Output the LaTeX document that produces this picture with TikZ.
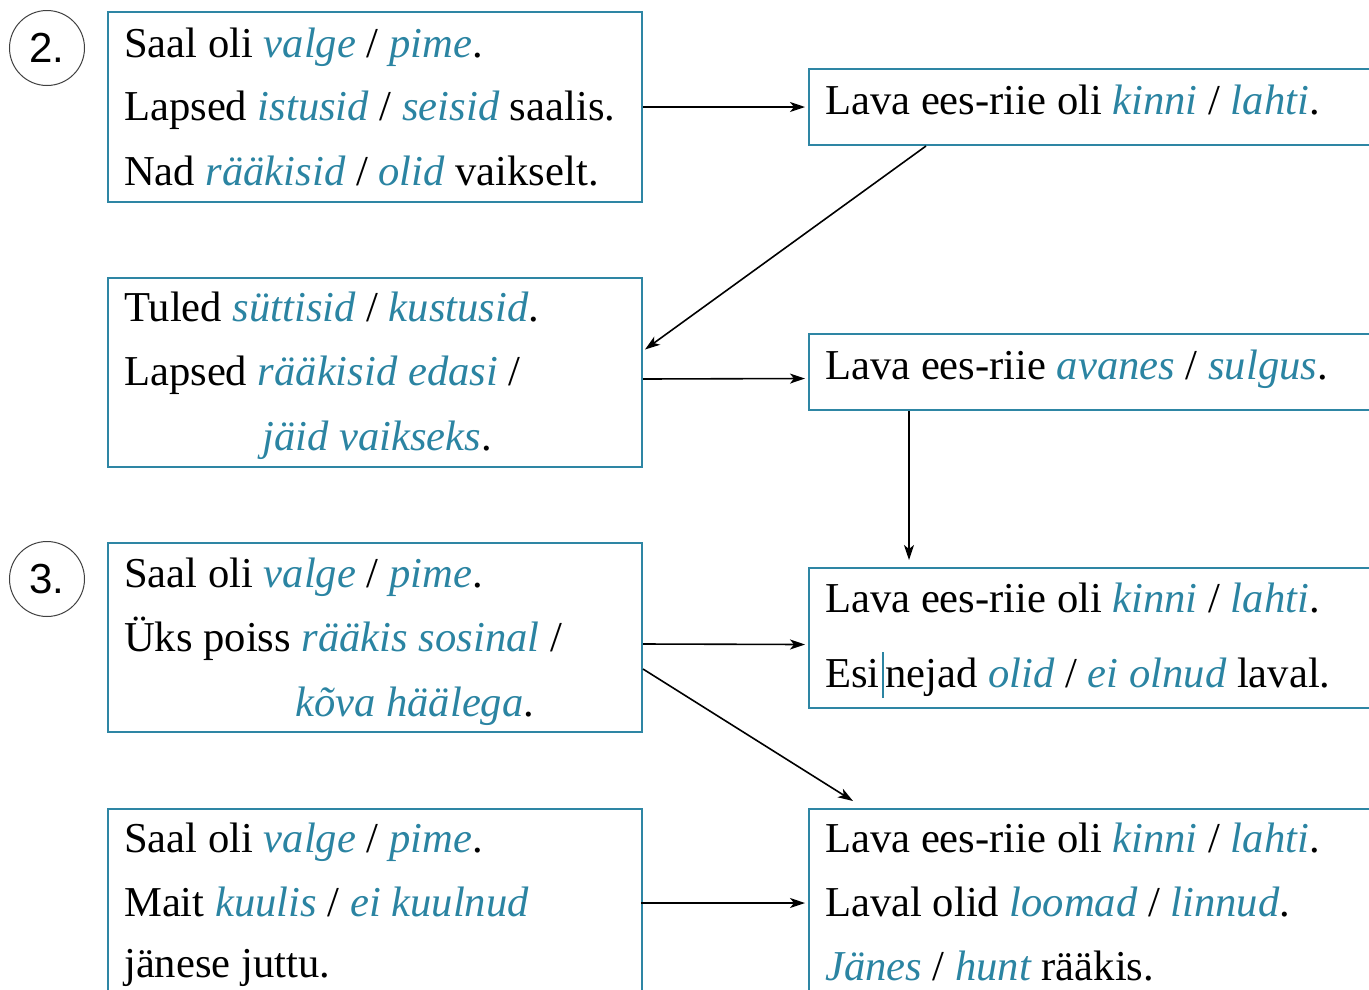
\documentclass[tikz,border=0pt]{standalone}
\usepackage{fontspec}
\setmainfont{Liberation Serif}
\newfontfamily\numfont{Liberation Sans}
\usetikzlibrary{arrows.meta,calc}
\definecolor{hlc}{HTML}{2B84A2}
\definecolor{boxc}{HTML}{2E86A4}
\newcommand\hv[1]{{\itshape\color{hlc}#1}}
\newcommand\cursorbar{\kern2pt{\color{hlc}\rule[-11pt]{2pt}{46pt}}\kern2pt}
\begin{document}
\begin{tikzpicture}[x=1pt,y=-1pt,
  box/.style={draw=boxc, line width=2pt, anchor=north west, inner sep=0pt, minimum width=534pt},
  rbox/.style={draw=boxc, line width=2pt, anchor=north west, inner sep=0pt, minimum width=600pt},
  txt/.style={anchor=base west, inner sep=0pt, font=\fontsize{42.6}{50}\selectfont},
  num/.style={circle, draw=black!75, line width=1pt, minimum size=75pt, inner sep=0pt, font=\numfont\fontsize{42}{42}\selectfont},
  arr/.style={-{Stealth[length=15pt,width=10pt,inset=4pt]}, line width=1.6pt}]
\useasboundingbox (0,0) rectangle (1369,989);
\clip (0,0) rectangle (1369,989);
% numbers
\node[num] (n2) at (47,48) {2.};
\node[num] (n3) at (47,579) {3.};
% left boxes
\node[box, minimum height=190pt] (A1) at (107,11) {};
\node[box, minimum height=189pt] (A2) at (107,277) {};
\node[box, minimum height=189pt] (A3) at (107,542) {};
\node[box, minimum height=240pt] (A4) at (107,808) {};
% right boxes
\node[rbox, minimum height=76pt] (B1) at (808,68) {};
\node[rbox, minimum height=76pt] (B2) at (808,333) {};
\node[rbox, minimum height=140pt] (B3) at (808,567) {};
\node[rbox, minimum height=240pt] (B4) at (808,808) {};
% texts A1
\node[txt] (a1a) at (124,57) {Saal oli \hv{valge} / \hv{pime}.};
\node[txt] (a1b) at (124,120) {Lapsed \hv{istusid} / \hv{seisid} saalis.};
\node[txt] (a1c) at (124,185) {Nad \hv{rääkisid} / \hv{olid} vaikselt.};
% A2
\node[txt] (a2a) at (124,321) {Tuled \hv{süttisid} / \hv{kustusid}.};
\node[txt] (a2b) at (124,385) {Lapsed \hv{rääkisid edasi} /};
\node[txt] (a2c) at (262,450) {\hv{jäid vaikseks}.};
% A3
\node[txt] (a3a) at (124,587) {Saal oli \hv{valge} / \hv{pime}.};
\node[txt] (a3b) at (124,651) {Üks poiss \hv{rääkis sosinal} /};
\node[txt] (a3c) at (295,716) {\hv{kõva häälega}.};
% A4
\node[txt] (a4a) at (124,852) {Saal oli \hv{valge} / \hv{pime}.};
\node[txt] (a4b) at (124,916) {Mait \hv{kuulis} / \hv{ei kuulnud}};
\node[txt] (a4c) at (124,977) {jänese juttu.};
% B texts
\node[txt] (b1a) at (825,114) {Lava ees-riie oli \hv{kinni} / \hv{lahti}.};
\node[txt] (b2a) at (825,379) {Lava ees-riie \hv{avanes} / \hv{sulgus}.};
\node[txt] (b3a) at (825,612) {Lava ees-riie oli \hv{kinni} / \hv{lahti}.};
\node[txt] (b3b) at (825,687) {Esi\cursorbar nejad \hv{olid} / \hv{ei olnud} laval.};
\node[txt] (b4a) at (825,852) {Lava ees-riie oli \hv{kinni} / \hv{lahti}.};
\node[txt] (b4b) at (825,916) {Laval olid \hv{loomad} / \hv{linnud}.};
\node[txt] (b4c) at (825,980) {\hv{Jänes} / \hv{hunt} rääkis.};
% arrows
\draw[arr] (A1.east) -- ([xshift=-3pt]B1.west);
\draw[arr] ([xshift=118pt]B1.south west) -- ([xshift=2pt,yshift=23pt]A2.east);
\draw[arr] ([yshift=-6.5pt]A2.east) -- ([xshift=-3pt,yshift=-6.5pt]B2.west);
\draw[arr] ([xshift=101pt]B2.south west) -- ([xshift=101pt,yshift=7pt]B3.north west);
\draw[arr] ([yshift=-6.5pt]A3.east) -- ([xshift=-3pt,yshift=-6.5pt]B3.west);
\coordinate (t4) at (853,801);
\draw[arr] ([yshift=-31.5pt]A3.east) -- (t4);
\draw[arr] (641,903) -- ([xshift=-3pt]B4.west |- 0,903);
\end{tikzpicture}
\end{document}
